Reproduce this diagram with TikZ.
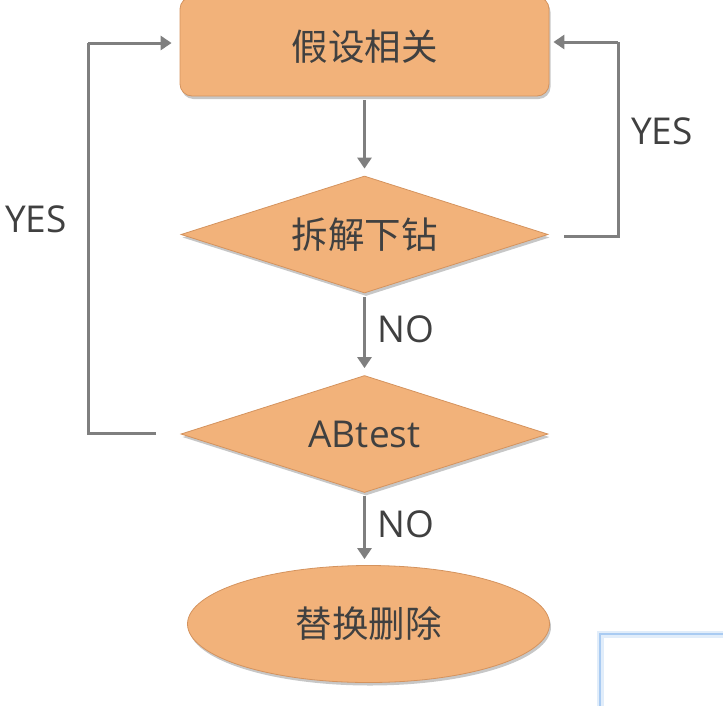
\documentclass[tikz,border=0pt]{standalone}
\usepackage{fontspec}
\setmainfont{Open Sans}
\newfontfamily\cjk{Noto Sans CJK SC}
\usetikzlibrary{shapes.geometric,arrows.meta,shadows}
\definecolor{boxfill}{HTML}{F2B27A}
\definecolor{boxline}{HTML}{D4935E}
\definecolor{linegray}{HTML}{7F7F7F}
\definecolor{txtgray}{HTML}{404040}
\definecolor{winblue}{HTML}{A9CBF2}
\tikzset{
  shape base/.style={fill=boxfill, draw=boxline, line width=0.8pt, text=txtgray,
    inner sep=0pt, font=\cjk\fontsize{36.5}{40}\selectfont,
    drop shadow={shadow xshift=1.5pt, shadow yshift=-3pt, fill=black, opacity=0.22}},
  procbox/.style={shape base, rectangle, rounded corners=12pt, minimum width=369pt, minimum height=99pt},
  decision/.style={shape base, diamond, aspect=3.14, minimum width=367pt, minimum height=117pt},
  terminal/.style={shape base, ellipse, minimum width=362pt, minimum height=117pt},
  flow/.style={draw=linegray, line width=3pt, -{Triangle[length=11pt,width=14pt]}},
  flowplain/.style={draw=linegray, line width=3pt},
  lbl/.style={text=txtgray, font=\fontsize{37}{40}\selectfont, inner sep=0pt}
}
\begin{document}
\begin{tikzpicture}[x=1pt,y=-1pt]
\useasboundingbox (0,0) rectangle (723,705);
% window artifact bottom right
\draw[winblue!35, line width=7pt] (600,712) -- (600,634) -- (730,634);
\draw[winblue, line width=1.6pt] (600,712) -- (600,634) -- (730,634);

\node[procbox] (hyp) at (364.5,46.5) {假设相关};
\node[decision] (drill) at (364.5,234.5) {拆解下钻};
\node[decision] (ab) at (364.5,434) {\fontspec{Open Sans}\fontsize{37}{40}\selectfont ABtest};
\node[terminal] (rep) at (368.5,624) {替换删除};

\draw[flow, shorten <=4pt, shorten >=7pt] (hyp.south) -- (drill.north);
\draw[flow, shorten <=4pt, shorten >=7pt] (drill.south) -- (ab.north);
\draw[flow, shorten <=3pt, shorten >=6pt] (ab.south) -- (rep.north -| ab.south);

\coordinate (ls) at (156,433);
\coordinate (rs) at (564,236);
\draw[flowplain] (ls) -- (88,433) -- (88,43);
\draw[flow, shorten >=8pt] (88,43) -- (hyp.west |- 88,43);
\draw[flowplain] (rs) -- (618,236) -- (618,42);
\draw[flow, shorten >=4pt] (618,42) -- (hyp.east |- 618,42);

\node[lbl] (yesl) at (36,219) {YES};
\node[lbl] (yesr) at (662,131) {YES};
\node[lbl] (no1) at (406,329) {NO};
\node[lbl] (no2) at (406,524) {NO};
\end{tikzpicture}
\end{document}
